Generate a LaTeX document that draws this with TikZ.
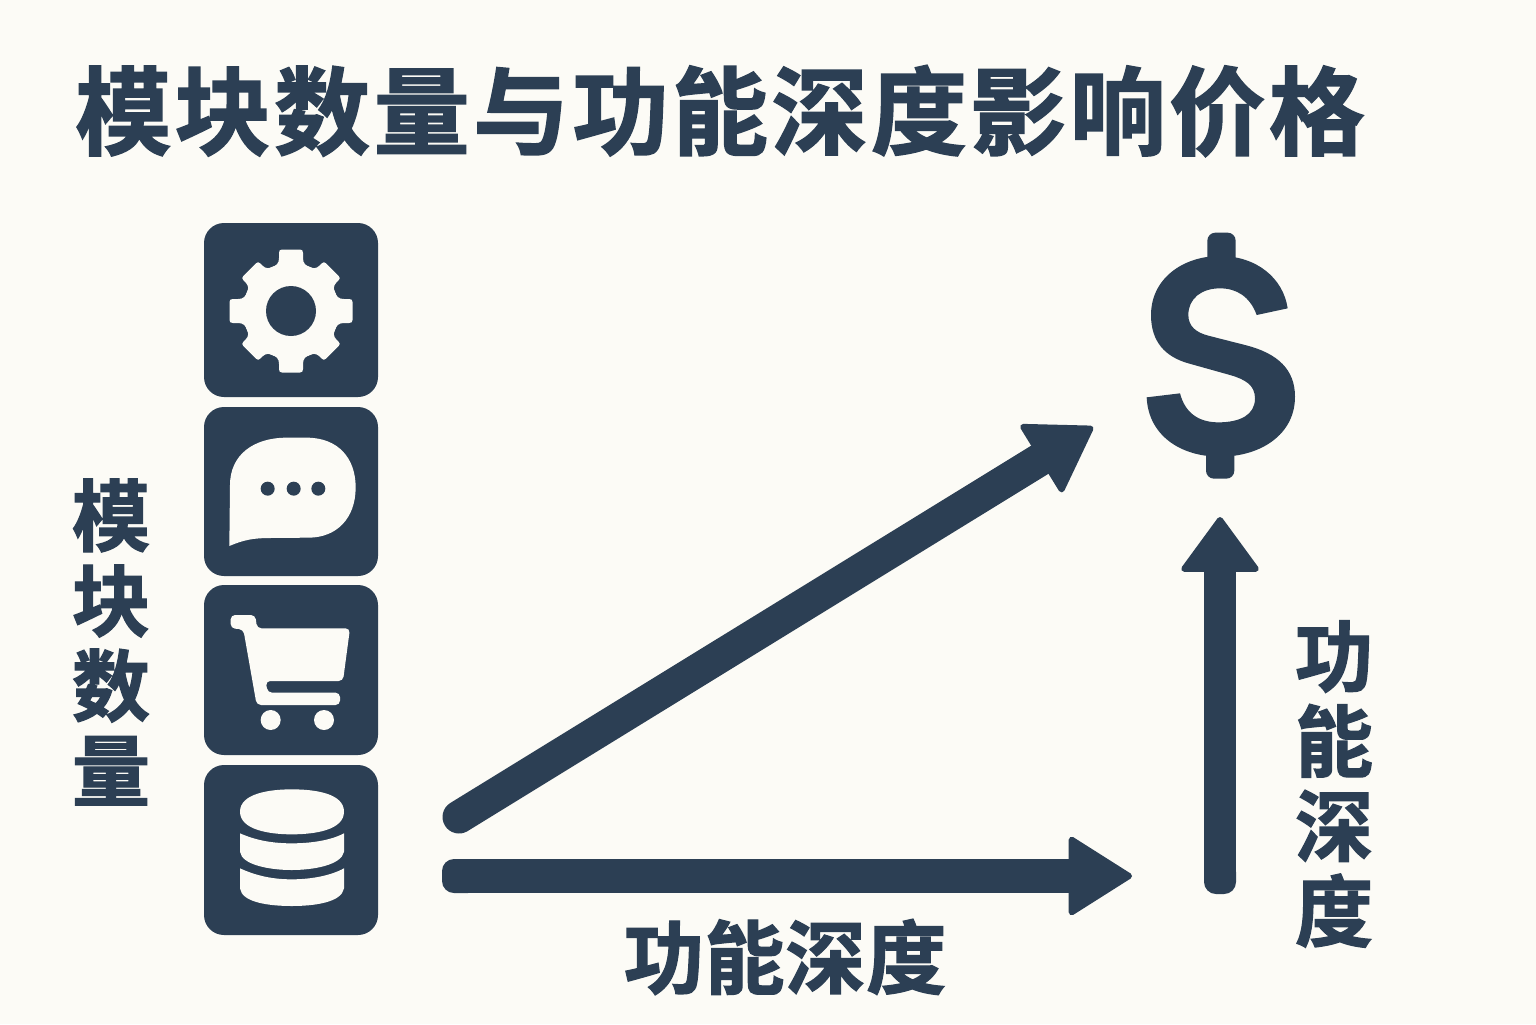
\documentclass[tikz,border=0pt]{standalone}
\usepackage{fontspec}
\usetikzlibrary{arrows.meta}
\newfontfamily\cjk[BoldFont=Noto Sans CJK SC Bold,BoldFeatures={FakeBold=1.6}]{Noto Sans CJK SC}
\definecolor{ink}{HTML}{2C3F54}
\definecolor{paper}{HTML}{FCFBF6}
\tikzset{
  x=0.5pt,y=-0.5pt,
  tile/.style={fill=ink,rounded corners=10pt},
  glyph/.style={fill=paper},
  toothshape/.style={glyph,rounded corners=2.5pt},
  bigtext/.style={text=ink,font=\cjk\bfseries\fontsize{39}{42.5}\selectfont,inner sep=0pt,align=center},
  flow/.style={draw=ink,line width=16.5pt},
  headA/.style={-{Triangle[length=32.5pt,width=41.5pt,round,line width=3pt]}},
  headB/.style={-{Triangle[length=33pt,width=41pt,round,line width=3pt]}},
  headC/.style={-{Triangle[length=28.5pt,width=41pt,round,line width=3pt]}}
}
\begin{document}
\begin{tikzpicture}
\useasboundingbox (0,0) rectangle (1536,1024);
\fill[paper] (0,0) rectangle (1536,1024);
% title
\node[text=ink,font=\cjk\bfseries\fontsize{48}{50}\selectfont,inner sep=0pt,anchor=center] (title) at (720,111) {\addfontfeature{LetterSpace=3.6}模块数量与功能深度影响价格};
% tiles
\fill[tile] (204,223) rectangle (378,397);
\fill[tile] (204,407) rectangle (378,576);
\fill[tile] (204,585) rectangle (378,755);
\fill[tile] (204,765) rectangle (378,935);
% gear
\begin{scope}[shift={(291,311)}]
  \fill[glyph] (0,0) circle[radius=48];
  \foreach \a in {0,90,180,270}
    \fill[glyph,rotate=\a] (-21,-43) .. controls (-14,-45) and (-12,-48) .. (-12,-53) -- (-12,-58) .. controls (-12,-60.5) and (-11,-61.5) .. (-9,-61.5) -- (9,-61.5) .. controls (11,-61.5) and (12,-60.5) .. (12,-58) -- (12,-53) .. controls (12,-48) and (14,-45) .. (21,-43) -- cycle;
  \foreach \a in {45,135,225,315}
    \fill[glyph,rotate=\a] (-21,-43) .. controls (-14,-45) and (-12,-48) .. (-12,-52) -- (-12,-55) .. controls (-12,-57.5) and (-11,-58.5) .. (-9,-58.5) -- (9,-58.5) .. controls (11,-58.5) and (12,-57.5) .. (12,-55) -- (12,-52) .. controls (12,-48) and (14,-45) .. (21,-43) -- cycle;
  \fill[ink] (0,0) circle[radius=25];
\end{scope}
% bubble
\begin{scope}[shift={(190,210)},scale=1/3]
  \fill[glyph] (118,1008) -- (120,825) .. controls (120,735) and (190,683) .. (290,683)
    -- (350,683) .. controls (445,683) and (497,745) .. (497,832)
    .. controls (497,925) and (440,983) .. (355,983)
    -- (240,984) .. controls (190,984) and (160,990) .. (118,1008) -- cycle;
  \fill[ink] (233,836) circle[radius=21] (311,836) circle[radius=21] (385,836) circle[radius=21];
\end{scope}
% cart
\begin{scope}[shift={(190,580)},scale=1/3]
  \fill[glyph,rounded corners=2.2pt] (122,105) -- (196,105) -- (201,145) -- (480,145) -- (459,303) -- (227,303) -- (233,338) -- (450,338) -- (450,375) -- (200,375) -- (160,148) -- (122,145) -- cycle;
  \fill[glyph] (242,420) circle[radius=30] (402,420) circle[radius=30];
\end{scope}
% database
\begin{scope}[shift={(190,580)},scale=1/3]
  \fill[glyph] (150,695) .. controls (150,640) and (240,628) .. (305,628)
    .. controls (375,628) and (462,640) .. (462,695)
    .. controls (462,750) and (375,763) .. (305,763)
    .. controls (240,763) and (150,750) .. (150,695) -- cycle;
  \fill[glyph] (150,760) .. controls (200,782) and (250,790) .. (305,790)
    .. controls (360,790) and (420,782) .. (462,760)
    -- (462,815) .. controls (455,855) and (370,870) .. (305,870)
    .. controls (240,870) and (155,855) .. (150,815) -- cycle;
  \fill[glyph] (150,865) .. controls (200,888) and (250,898) .. (305,898)
    .. controls (360,898) and (420,888) .. (462,865)
    -- (462,925) .. controls (455,968) and (370,978) .. (305,978)
    .. controls (240,978) and (155,968) .. (150,925) -- cycle;
\end{scope}
% dollar
\begin{scope}[shift={(1120,220)},scale=1/3]
  \fill[ink,rounded corners=4pt] (262,160) -- (262,38) -- (347,38) -- (347,160) -- cycle;
  \fill[ink,rounded corners=4pt] (258,650) -- (258,776) -- (343,776) -- (343,650) -- cycle;
  \fill[ink] (503,265) -- (410,285) .. controls (390,230) and (350,205) .. (300,205)
    .. controls (245,205) and (205,235) .. (205,285)
    .. controls (205,320) and (230,338) .. (265,347)
    -- (375,375) .. controls (475,400) and (525,450) .. (525,530)
    .. controls (525,645) and (420,710) .. (300,710)
    .. controls (180,710) and (85,645) .. (80,532)
    -- (180,520) .. controls (195,578) and (235,607) .. (295,607)
    .. controls (360,607) and (405,585) .. (405,535)
    .. controls (405,495) and (375,478) .. (330,465)
    -- (205,430) .. controls (135,410) and (93,365) .. (93,285)
    .. controls (93,175) and (190,108) .. (300,108)
    .. controls (410,108) and (490,175) .. (503,265) -- cycle;
\end{scope}
% arrows
\coordinate (s1) at (459,817);
\coordinate (e1) at (1093,427);
\coordinate (s2) at (460,876);
\coordinate (e2) at (1132,876);
\coordinate (s3) at (1220,876);
\coordinate (e3) at (1220,517);
\fill[ink,rounded corners=6pt] (442,859) rectangle (480,893);
\fill[ink,rounded corners=6pt] (1204,860) rectangle (1236,894);
\draw[flow,line cap=round,headA] (s1) -- (e1);
\draw[flow,line width=17pt,headB] (s2) -- (e2);
\draw[flow,line width=16pt,headC] (s3) -- (e3);
% labels
\node[bigtext] (lmod) at (111,642) {模\\块\\数\\量};
\node[bigtext] (lfuncv) at (1334,784) {功\\能\\深\\度};
\node[bigtext,font=\cjk\bfseries\fontsize{40}{43}\selectfont] (lfunch) at (785,957) {\addfontfeature{LetterSpace=1}功能深度};
\end{tikzpicture}
\end{document}
